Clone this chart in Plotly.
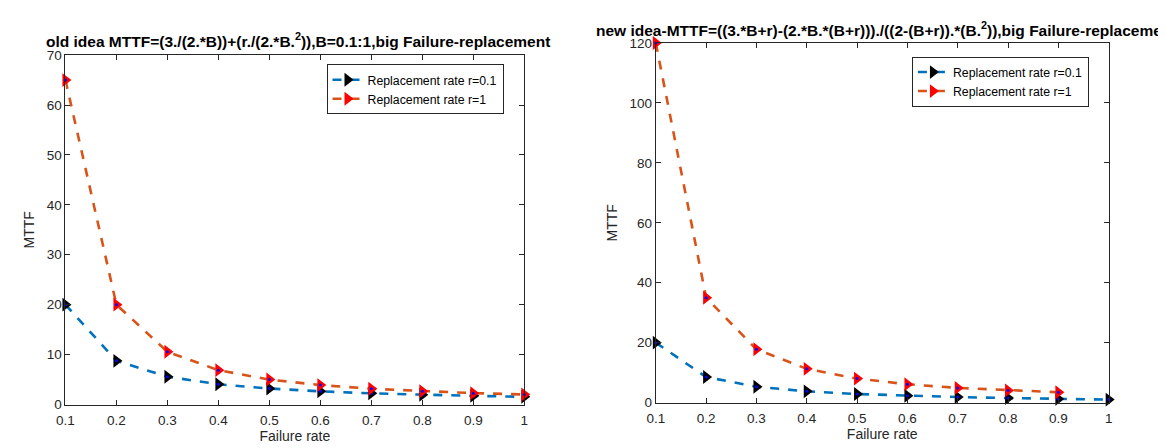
import plotly.graph_objects as go

failure_rate = [0.1, 0.2, 0.3, 0.4, 0.5, 0.6, 0.7, 0.8, 0.9, 1.0]

old_r01 = [20.0, 8.75, 5.56, 4.06, 3.2, 2.64, 2.24, 1.95, 1.73, 1.55]
old_r1 = [65.0, 20.0, 10.56, 6.88, 5.0, 3.89, 3.16, 2.66, 2.28, 2.0]

new_r01 = [20.0, 8.53, 5.28, 3.75, 2.86, 2.26, 1.84, 1.51, 1.23, 1.0]
new_r1_x = [0.1, 0.2, 0.3, 0.4, 0.5, 0.6, 0.7, 0.8, 0.9]
new_r1 = [120.0, 35.0, 17.78, 11.25, 8.0, 6.11, 4.9, 4.06, 3.46]

x_ticks = [0.1, 0.2, 0.3, 0.4, 0.5, 0.6, 0.7, 0.8, 0.9, 1]
x_tick_text = ["0.1", "0.2", "0.3", "0.4", "0.5", "0.6", "0.7", "0.8", "0.9", "1"]

title_left = "old idea MTTF=(3./(2.*B))+(r./(2.*B.<sup>2</sup>)),B=0.1:1,big Failure-replacement"
title_right = "new idea-MTTF=((3.*B+r)-(2.*B.*(B+r)))./((2-(B+r)).*(B.<sup>2</sup>)),big Failure-replacement"

BLUE = "#0072BD"
ORANGE = "#D95319"
W, H = 1166, 448
FONT = "Liberation Sans, Arial, Helvetica"

fig = go.Figure()


def add_series(x, y, xa, ya, line_color, marker_color, name, legend):
    fig.add_trace(go.Scatter(
        x=x, y=y, xaxis=xa, yaxis=ya, mode="lines+markers", name=name,
        line=dict(color=line_color, width=2.6, dash="dash"),
        marker=dict(symbol="triangle-right", size=12, color=marker_color),
        cliponaxis=False, legend=legend,
    ))
    fig.add_trace(go.Scatter(
        x=x, y=y, xaxis=xa, yaxis=ya, mode="markers", showlegend=False,
        marker=dict(symbol="circle", size=3, color="#0000FF"),
        cliponaxis=False, hoverinfo="skip",
    ))


add_series(failure_rate, old_r01, "x", "y", BLUE, "black", "Replacement rate r=0.1", "legend")
add_series(failure_rate, old_r1, "x", "y", ORANGE, "#FF0000", "Replacement rate r=1", "legend")
add_series(failure_rate, new_r01, "x2", "y2", BLUE, "black", "Replacement rate r=0.1", "legend2")
add_series(new_r1_x, new_r1, "x2", "y2", ORANGE, "#FF0000", "Replacement rate r=1", "legend2")

axis_common = dict(
    showline=True, linecolor="#262626", linewidth=1, mirror="ticks",
    ticks="inside", ticklen=5, tickcolor="#262626", showgrid=False, zeroline=False,
    tickfont=dict(family=FONT, size=13.5, color="#262626"),
)
x_extra = dict(ticklabelstandoff=3)
title_font = dict(family=FONT, size=14, color="#262626")
legend_font = dict(family=FONT, size=12.3, color="black")

fig.update_layout(
    width=W, height=H,
    margin=dict(l=0, r=0, t=0, b=0),
    paper_bgcolor="white", plot_bgcolor="white",
    font=dict(family=FONT, color="#262626"),
    xaxis=dict(domain=[49 / W, 513 / W], range=[0.1, 1], tickvals=x_ticks, ticktext=x_tick_text,
               title=dict(text="Failure rate", font=title_font, standoff=4), anchor="y",
               **axis_common, **x_extra),
    yaxis=dict(domain=[1 - 403 / H, 1 - 41.5 / H], range=[0, 70], dtick=10,
               title=dict(text="MTTF", font=title_font, standoff=8), anchor="x", **axis_common),
    xaxis2=dict(domain=[646 / W, 1104 / W], range=[0.1, 1], tickvals=x_ticks, ticktext=x_tick_text,
                title=dict(text="Failure rate", font=title_font, standoff=4), anchor="y2",
                **axis_common, **x_extra),
    yaxis2=dict(domain=[1 - 401 / H, 1 - 29 / H], range=[0, 120], dtick=20,
                title=dict(text="MTTF", font=title_font, standoff=8), anchor="x2", **axis_common),
    legend=dict(x=313 / W, y=1 - 51 / H, xanchor="left", yanchor="top", xref="paper", yref="paper",
                bgcolor="white", bordercolor="#262626", borderwidth=1,
                font=legend_font, tracegroupgap=0, itemwidth=30),
    legend2=dict(x=905 / W, y=1 - 43 / H, xanchor="left", yanchor="top", xref="paper", yref="paper",
                 bgcolor="white", bordercolor="#262626", borderwidth=1,
                 font=legend_font, tracegroupgap=0, itemwidth=30),
    annotations=[
        dict(text="<b>" + title_left + "</b>", x=284 / W, y=1 - 26 / H, xref="paper", yref="paper",
             xanchor="center", yanchor="middle", showarrow=False,
             font=dict(family=FONT, size=15.5, color="black")),
        dict(text="<b>" + title_right + "</b>", x=584 / W, y=1 - 15 / H, xref="paper", yref="paper",
             xanchor="left", yanchor="middle", showarrow=False,
             font=dict(family=FONT, size=15.5, color="black")),
    ],
)

fig.write_html("out.html")
